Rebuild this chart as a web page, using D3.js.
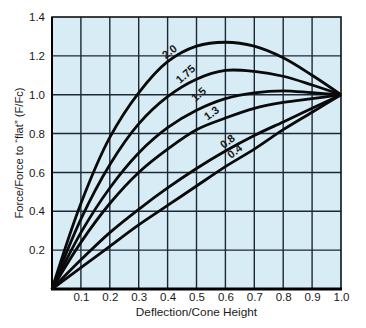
<!DOCTYPE html>
<html>
<head>
<meta charset="utf-8">
<script src="https://cdn.jsdelivr.net/npm/d3@7"></script>
<style>
  html, body { margin: 0; padding: 0; background: #ffffff; }
  svg { display: block; }
  text { font-family: "Liberation Sans", Arial, sans-serif; fill: #1a1a1a; }
</style>
</head>
<body>
<svg id="chart" width="366" height="328"></svg>
<script>
// Deflection / cone height sample points
const deflection = [0, 0.1, 0.2, 0.3, 0.4, 0.5, 0.6, 0.7, 0.8, 0.9, 1.0];

// Cone height / thickness ratios (curve labels)
const ratios = ["2.0", "1.75", "1.5", "1.3", "0.8", "0.4"];

// Force / force-to-flat for each ratio
const force20  = [0, 0.44, 0.78, 1.01, 1.17, 1.25, 1.27, 1.25, 1.19, 1.10, 1.00];
const force175 = [0, 0.36, 0.64, 0.85, 0.99, 1.08, 1.125, 1.12, 1.095, 1.05, 1.00];
const force15  = [0, 0.29, 0.52, 0.70, 0.83, 0.92, 0.98, 1.01, 1.02, 1.01, 1.00];
const force13  = [0, 0.24, 0.44, 0.60, 0.72, 0.82, 0.88, 0.93, 0.96, 0.98, 1.00];
const force08  = [0, 0.15, 0.29, 0.41, 0.52, 0.62, 0.71, 0.79, 0.86, 0.93, 1.00];
const force04  = [0, 0.11, 0.22, 0.33, 0.43, 0.53, 0.63, 0.72, 0.82, 0.91, 1.00];

// Label centre points (deflection, force) and text angle for each curve
const labelAt    = [[0.411, 1.213], [0.467, 1.098], [0.512, 0.993], [0.556, 0.896], [0.612, 0.751], [0.637, 0.70]];
const labelAngle = [-38, -42, -40, -36, -38, -38];

const xTicks = [0.1, 0.2, 0.3, 0.4, 0.5, 0.6, 0.7, 0.8, 0.9, 1.0];
const yTicks = [0.2, 0.4, 0.6, 0.8, 1.0, 1.2, 1.4];
const xGrid = [0.1, 0.2, 0.3, 0.4, 0.5, 0.6, 0.7, 0.8, 0.9];
const yGrid = [0.2, 0.4, 0.6, 0.8, 1.0, 1.2];

const series = [force20, force175, force15, force13, force08, force04];

const margin = { left: 52, top: 17, right: 25, bottom: 39 };
const W = 366, H = 328;
const svg = d3.select("#chart");

const x = d3.scaleLinear().domain([0, 1]).range([margin.left, W - margin.right]);
const y = d3.scaleLinear().domain([0, 1.4]).range([H - margin.bottom, margin.top]);

// plot background
svg.append("rect")
  .attr("x", x(0)).attr("y", y(1.4))
  .attr("width", x(1) - x(0)).attr("height", y(0) - y(1.4))
  .attr("fill", "#d8ecf6");

// grid
const grid = svg.append("g").attr("stroke", "#1c2836").attr("stroke-width", 1.4);
grid.selectAll("line.v").data(xGrid).join("line")
  .attr("x1", d => x(d)).attr("x2", d => x(d))
  .attr("y1", y(0)).attr("y2", y(1.4));
grid.selectAll("line.h").data(yGrid).join("line")
  .attr("x1", x(0)).attr("x2", x(1))
  .attr("y1", d => y(d)).attr("y2", d => y(d));

// frame
svg.append("rect")
  .attr("x", x(0)).attr("y", y(1.4))
  .attr("width", x(1) - x(0)).attr("height", y(0) - y(1.4))
  .attr("fill", "none").attr("stroke", "#111").attr("stroke-width", 1.6);
svg.append("line")
  .attr("x1", x(0) - 1).attr("x2", x(1) + 1)
  .attr("y1", y(0)).attr("y2", y(0))
  .attr("stroke", "#000").attr("stroke-width", 3);
svg.append("line")
  .attr("x1", x(0)).attr("x2", x(0))
  .attr("y1", y(0)).attr("y2", y(1.4))
  .attr("stroke", "#000").attr("stroke-width", 2);

// axes (labels only)
const xAxis = d3.axisBottom(x).tickValues(xTicks).tickFormat(d3.format(".1f")).tickSize(0).tickPadding(2);
const gx = svg.append("g").attr("transform", `translate(0,${y(0) + 2})`).call(xAxis);
gx.select(".domain").remove();
gx.selectAll("text").attr("font-size", 11.5).attr("fill", "#1a1a1a")
  .attr("font-family", "Liberation Sans, Arial, sans-serif");

const yAxis = d3.axisLeft(y).tickValues(yTicks).tickFormat(d3.format(".1f")).tickSize(0).tickPadding(7);
const gy = svg.append("g").attr("transform", `translate(${x(0)},0)`).call(yAxis);
gy.select(".domain").remove();
gy.selectAll("text").attr("font-size", 11.5).attr("fill", "#1a1a1a")
  .attr("font-family", "Liberation Sans, Arial, sans-serif");

// axis titles
svg.append("text")
  .attr("x", (x(0) + x(1)) / 2).attr("y", 316)
  .attr("text-anchor", "middle").attr("font-size", 11.8)
  .text("Deflection/Cone Height");
svg.append("text")
  .attr("transform", `translate(23,${(y(0) + y(1.4)) / 2}) rotate(-90)`)
  .attr("text-anchor", "middle").attr("font-size", 11.2)
  .text("Force/Force to \u201cflat\u201d (F/Fc)");

// curves
const line = d3.line()
  .x((d, i) => x(deflection[i]))
  .y(d => y(d))
  .curve(d3.curveCatmullRom.alpha(0.5));

svg.append("g")
  .selectAll("path").data(series).join("path")
  .attr("d", d => line(d))
  .attr("fill", "none")
  .attr("stroke", "#0a0a0a")
  .attr("stroke-width", 2.8)
  .attr("stroke-linejoin", "round");

// curve labels
svg.append("g")
  .selectAll("text").data(ratios).join("text")
  .attr("transform", (d, i) => `translate(${x(labelAt[i][0])},${y(labelAt[i][1])}) rotate(${labelAngle[i]})`)
  .attr("text-anchor", "middle")
  .attr("dy", "0.15em")
  .attr("font-size", 11)
  .attr("font-weight", "bold")
  .attr("fill", "#0a0a0a")
  .text(d => d);
</script>
</body>
</html>
